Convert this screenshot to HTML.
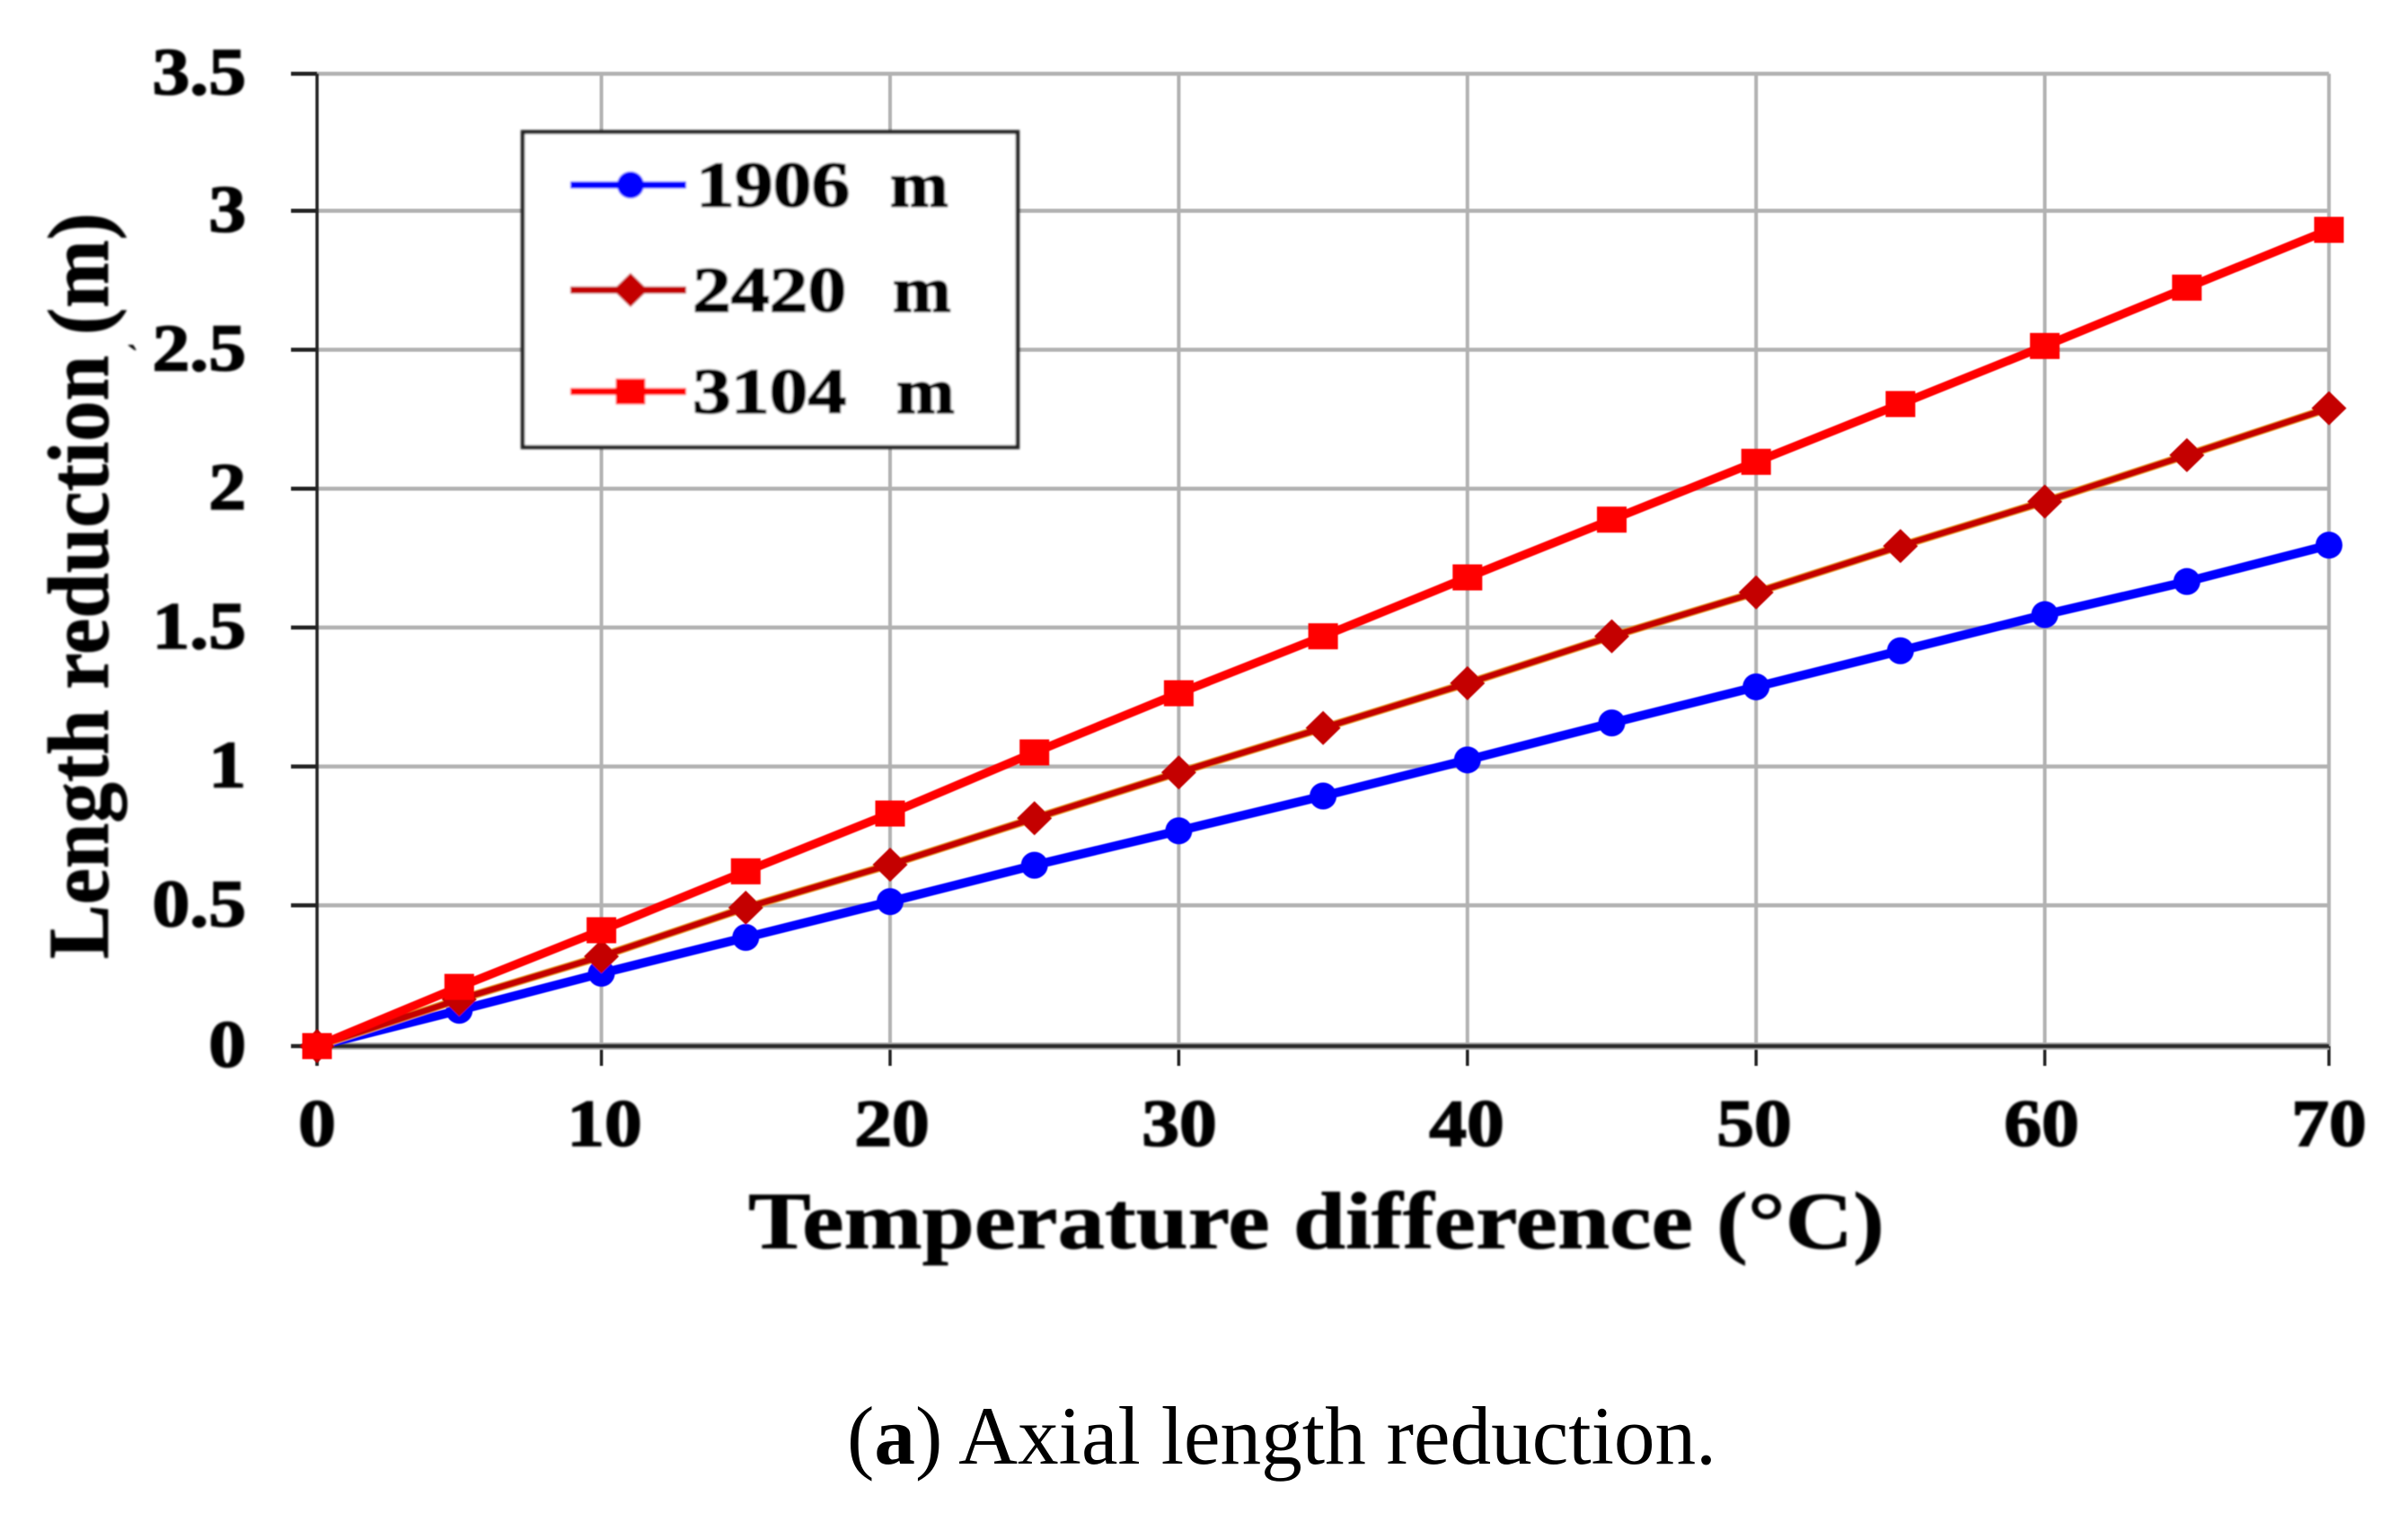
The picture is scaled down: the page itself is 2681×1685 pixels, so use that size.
<!DOCTYPE html>
<html lang="en">
<head>
<meta charset="utf-8">
<title>Axial length reduction</title>
<style>
html,body{margin:0;padding:0;background:#fff;width:2681px;height:1685px;overflow:hidden}
svg{display:block}
text{font-family:"Liberation Serif",serif;fill:#000}
</style>
</head>
<body>
<svg id="chart" xmlns="http://www.w3.org/2000/svg" width="2681" height="1685" viewBox="0 0 2681 1685">
  <defs>
    <filter id="soft" x="-5%" y="-5%" width="110%" height="110%"><feGaussianBlur stdDeviation="1.1"/></filter>
    <filter id="softer" x="-5%" y="-5%" width="110%" height="110%"><feGaussianBlur stdDeviation="0.6"/></filter>
  </defs>
  <rect x="0" y="0" width="2681" height="1685" fill="#fff"/>
  <g id="grid" filter="url(#softer)"></g>
  <g id="axes" filter="url(#softer)"></g>
  <g id="ticklabels" filter="url(#soft)" stroke="#000" stroke-width="1.6"></g>
  <g id="legend" filter="url(#soft)"></g>
  <g id="series" filter="url(#softer)"></g>
  <g filter="url(#soft)" stroke="#000" stroke-width="0.8">
    <text x="833" y="1390" font-size="90" font-weight="bold" textLength="1265" lengthAdjust="spacingAndGlyphs">Temperature difference (°C)</text>
    <text transform="translate(120,1068) rotate(-90)" x="0" y="0" font-size="96" font-weight="bold" textLength="831" lengthAdjust="spacingAndGlyphs">Length reduction (m)</text>
    <text x="141" y="412" font-size="40" font-weight="bold" stroke="none">`</text>
  </g>
  <text x="943" y="1630" font-size="92" textLength="968" lengthAdjust="spacingAndGlyphs">(<tspan font-weight="bold">a</tspan>) Axial length reduction.</text>
</svg>
<script>
const temperatures = [0,5,10,15,20,25,30,35,40,45,50,55,60,65,70];
const series1906 = [0,0.129,0.262,0.391,0.52,0.651,0.775,0.9,1.03,1.163,1.293,1.423,1.553,1.672,1.803];
const series2420 = [0,0.168,0.323,0.498,0.653,0.82,0.985,1.145,1.306,1.475,1.633,1.8,1.96,2.127,2.296];
const series3104 = [0,0.213,0.417,0.629,0.837,1.057,1.27,1.475,1.687,1.895,2.103,2.311,2.52,2.73,2.938];
const xTicks = [0,10,20,30,40,50,60,70];
const yTicks = [0,0.5,1,1.5,2,2.5,3,3.5];
const yTickLabels = ["0","0.5","1","1.5","2","2.5","3","3.5"];
const legendLabels = ["1906","2420","3104"];

const NS = "http://www.w3.org/2000/svg";
/* the source image is slightly stretched in the middle of the x axis */
function xScale(v){
  if (v <= 10) return 353 + v * 31.66;
  if (v <= 60) return 669.6 + (v - 10) * 32.14;
  return 2276.6 + (v - 60) * 31.64;
}
function xLabelPos(v){ return 353 + v * 32; }
function yScale(v){ return 1165 - v * 309.4; }
function yGrid(v){ return yScale(v) - ((v > 0 && v < 3.5) ? 2 : 0); }
function make(tag, attrs, parent){
  const el = document.createElementNS(NS, tag);
  for (const k in attrs) el.setAttribute(k, attrs[k]);
  parent.appendChild(el);
  return el;
}
const gridG = document.getElementById("grid");
const axesG = document.getElementById("axes");
const labelG = document.getElementById("ticklabels");
const seriesG = document.getElementById("series");
const legendG = document.getElementById("legend");

xTicks.forEach(function(t){
  const x = xScale(t);
  if (t !== 0) {
    const g = make("line", {x1:x, x2:x, y1:yScale(3.5), y2:yScale(0), stroke:"#b2b2b2", "stroke-width":4}, gridG);
    
    
  }
  const tick = make("line", {x1:x, x2:x, y1:yScale(0), y2:yScale(0)+22, stroke:"#222", "stroke-width":3.5}, axesG);
  
  
  const lab = make("text", {transform:"translate("+xLabelPos(t)+",1276) scale(1.13,1)", "text-anchor":"middle", "font-size":74, "font-weight":"bold"}, labelG);
  lab.textContent = String(t);
  
  
});
yTicks.forEach(function(t, i){
  const y = yGrid(t);
  if (t !== 0) {
    const g = make("line", {x1:xScale(0), x2:xScale(70), y1:y, y2:y, stroke:"#b2b2b2", "stroke-width":4.5}, gridG);
    
    
  }
  const tick = make("line", {x1:324, x2:xScale(0), y1:y, y2:y, stroke:"#222", "stroke-width":4.5}, axesG);
  
  
  const lab = make("text", {transform:"translate(274,"+(y+23)+") scale(1.13,1)", "text-anchor":"end", "font-size":74, "font-weight":"bold"}, labelG);
  lab.textContent = yTickLabels[i];
  
  
});
const yAxis = make("line", {x1:xScale(0), x2:xScale(0), y1:yScale(3.5), y2:yScale(0)+22, stroke:"#222", "stroke-width":3.5}, axesG);


const xHalo = make("line", {x1:xScale(0), x2:xScale(70), y1:yScale(0), y2:yScale(0), stroke:"#aaa", "stroke-width":8}, axesG);


const xAxis = make("line", {x1:xScale(0), x2:xScale(70), y1:yScale(0), y2:yScale(0), stroke:"#2a2a2a", "stroke-width":4.5}, axesG);



function marker(kind, cx, cy, color, parent){
  let m;
  if (kind === "circle") {
    m = make("ellipse", {cx:cx, cy:cy, rx:15, ry:15, fill:color}, parent);
  } else if (kind === "diamond") {
    m = make("polygon", {points:(cx-19.5)+","+cy+" "+cx+","+(cy-19)+" "+(cx+19.5)+","+cy+" "+cx+","+(cy+19), fill:color}, parent);
  } else {
    m = make("rect", {x:cx-16.5, y:cy-14.5, width:33, height:29, fill:color}, parent);
  }
  return m;
}
function drawSeries(values, color, width, kind, name){
  const g = make("g", {}, seriesG);
  
  
  const pts = values.map(function(v,i){ return xScale(temperatures[i]) + "," + yScale(v); }).join(" ");
  if (kind === "diamond") {
    make("polyline", {points:pts, fill:"none", stroke:"#ee9a30", "stroke-width":width+2, "stroke-linejoin":"round"}, g);
  }
  const line = make("polyline", {points:pts, fill:"none", stroke:color, "stroke-width":width, "stroke-linejoin":"round"}, g);
  
  
  values.forEach(function(v,i){
    const m = marker(kind, xScale(temperatures[i]), yScale(v), color, g);
    
    
  });
}
drawSeries(series1906, "#0000ff", 10, "circle", "series-1906-m");
drawSeries(series2420, "#c40000", 7, "diamond", "series-2420-m");
drawSeries(series3104, "#ff0000", 9.5, "square", "series-3104-m");

/* legend */
const legendBox = make("rect", {x:582, y:147, width:551, height:351, fill:"#fff", stroke:"#222", "stroke-width":4.5}, legendG);


const legendColors = ["#0000ff","#c40000","#ff0000"];
const legendKinds = ["circle","diamond","square"];
const legendRows = [206,323,436];
const legendTextStart = [775,771,771];
const legendUnitStart = [991,994,998];
legendLabels.forEach(function(name, i){
  const y = legendRows[i];
  const entry = make("g", {}, legendG);
  
  
  make("line", {x1:635, x2:764, y1:y, y2:y, stroke:legendColors[i], "stroke-width":8}, entry);
  marker(legendKinds[i], 702, y, legendColors[i], entry);
  const t = make("text", {transform:"translate("+legendTextStart[i]+","+(y+24)+") scale(1.19,1)", "font-size":72, "font-weight":"bold", stroke:"#000", "stroke-width":1.6}, entry);
  t.textContent = name;
  const u = make("text", {transform:"translate("+legendUnitStart[i]+","+(y+24)+") scale(1.08,1)", "font-size":72, "font-weight":"bold", stroke:"#000", "stroke-width":1.6}, entry);
  u.textContent = "m";
});
</script>
</body>
</html>
